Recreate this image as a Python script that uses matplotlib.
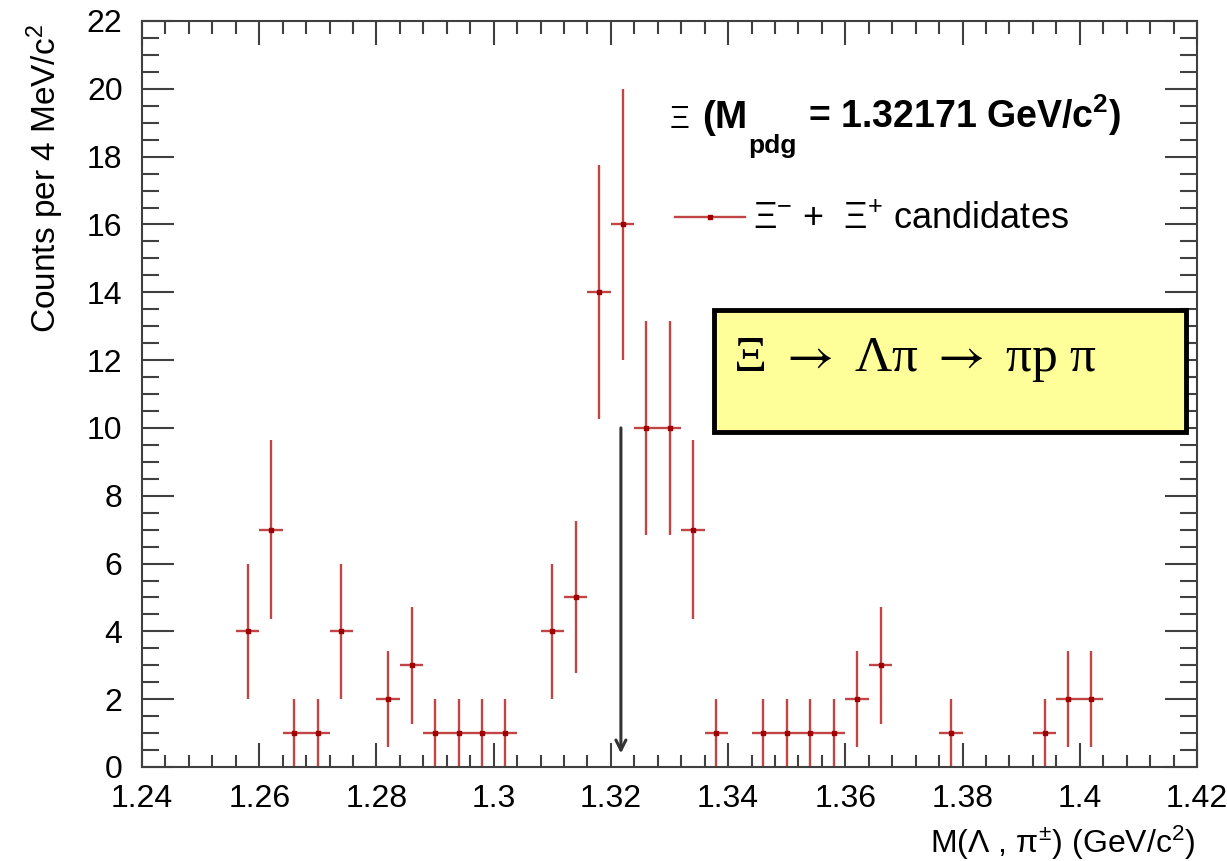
import numpy as np
import matplotlib
matplotlib.use("Agg")
import matplotlib.pyplot as plt
from matplotlib.patches import Rectangle
from matplotlib.lines import Line2D
from matplotlib.ticker import MultipleLocator, FormatStrFormatter

plt.rcParams['font.family'] = ['Liberation Sans', 'DejaVu Sans']
plt.rcParams['mathtext.fontset'] = 'custom'
plt.rcParams['mathtext.rm'] = 'Liberation Sans'
plt.rcParams['mathtext.it'] = 'Liberation Sans'
plt.rcParams['mathtext.bf'] = 'Liberation Sans:bold'

# bin centres (GeV/c^2), 4 MeV bins
mass = [1.258, 1.262, 1.266, 1.270, 1.274, 1.282, 1.286, 1.290, 1.294, 1.298,
        1.302, 1.310, 1.314, 1.318, 1.322, 1.326, 1.330, 1.334, 1.338, 1.346,
        1.350, 1.354, 1.358, 1.362, 1.366, 1.378, 1.394, 1.398, 1.402]
counts = [4, 7, 1, 1, 4, 2, 3, 1, 1, 1,
          1, 4, 5, 14, 16, 10, 10, 7, 1, 1,
          1, 1, 1, 2, 3, 1, 1, 2, 2]
count_err = [2.0, 2.65, 1.0, 1.0, 2.0, 1.41, 1.73, 1.0, 1.0, 1.0,
             1.0, 2.0, 2.24, 3.74, 4.0, 3.16, 3.16, 2.65, 1.0, 1.0,
             1.0, 1.0, 1.0, 1.41, 1.73, 1.0, 1.0, 1.41, 1.41]
half_bin = 0.002
m_pdg = 1.32171

W, H = 1227, 861
fig = plt.figure(figsize=(W / 100, H / 100), dpi=100)
ax = fig.add_axes([142 / W, 1 - 767 / H, (1197 - 142) / W, (767 - 21) / H])

red_line = '#c24545'
red_mark = '#a00000'
ax.errorbar(mass, counts, xerr=half_bin, yerr=count_err, fmt='s', ms=3.5,
            color=red_mark, ecolor=red_line, elinewidth=1.7, capsize=0)

# arrow at the PDG mass
ax.annotate('', xy=(m_pdg, 0.4), xytext=(m_pdg, 10),
            arrowprops=dict(arrowstyle='->', color='#333333', lw=2.2,
                            mutation_scale=18, shrinkA=0, shrinkB=0))

ax.set_xlim(1.24, 1.42)
ax.set_ylim(0, 22)
ax.xaxis.set_major_locator(MultipleLocator(0.02))
ax.xaxis.set_minor_locator(MultipleLocator(0.004))
ax.yaxis.set_major_locator(MultipleLocator(2))
ax.yaxis.set_minor_locator(MultipleLocator(0.5))
ax.xaxis.set_major_formatter(FormatStrFormatter('%g'))

axis_col = '#404040'
for s in ax.spines.values():
    s.set_color(axis_col)
    s.set_linewidth(1.5)
ax.tick_params(axis='both', which='both', direction='in', top=True, right=True,
               color=axis_col, width=1.5, labelsize=23)
ax.tick_params(axis='x', which='major', length=17, pad=12)
ax.tick_params(axis='x', which='minor', length=9)
ax.tick_params(axis='y', which='major', length=23, pad=14)
ax.tick_params(axis='y', which='minor', length=12)

fig.text(1195 / W, 1 - 843 / H, r'M($\Lambda$ , $\pi^{\pm}$) (GeV/c$^{2}$)',
         ha='right', va='center', fontsize=23)
fig.text(45 / W, 1 - 24 / H, r'Counts per 4 MeV/c$^{2}$', rotation=90,
         ha='center', va='top', fontsize=24)

# legend header, built piecewise for the low subscript
base = 1 - 128 / H
fig.text(670 / W, base, '\u039e', ha='left', va='baseline', fontsize=22)
fig.text(702 / W, base, '(M', ha='left', va='baseline', fontsize=28, fontweight='bold')
fig.text(748 / W, 1 - 153 / H, 'pdg', ha='left', va='baseline', fontsize=19, fontweight='bold')
fig.text(808 / W, base, r'= 1.32171 GeV/c$^{\mathbf{2}}$)', ha='left', va='baseline',
         fontsize=27, fontweight='bold')

# legend entry
fig.add_artist(Line2D([675 / W, 745 / W], [1 - 217 / H, 1 - 217 / H],
                      color=red_line, lw=1.7, transform=fig.transFigure))
fig.add_artist(Line2D([710 / W], [1 - 217 / H], marker='s', ms=3.5,
                      color=red_mark, transform=fig.transFigure))
fig.text(753 / W, 1 - 219 / H, r'$\Xi^{-}$ +  $\Xi^{+}$ candidates',
         ha='left', va='center', fontsize=26)

# yellow decay box
fig.add_artist(Rectangle((714 / W, 1 - 432 / H), (1186 - 714) / W, (432 - 310) / H,
                         facecolor='#ffff99', edgecolor='black', lw=3.5,
                         transform=fig.transFigure))
fig.text(733 / W, 1 - 360 / H, '\u039e $\\rightarrow$ \u039b\u03c0 $\\rightarrow$ \u03c0p \u03c0',
         ha='left', va='center', fontsize=37, math_fontfamily='stix',
         family=['Liberation Serif', 'DejaVu Serif'])

fig.savefig('out.png', dpi=100)
